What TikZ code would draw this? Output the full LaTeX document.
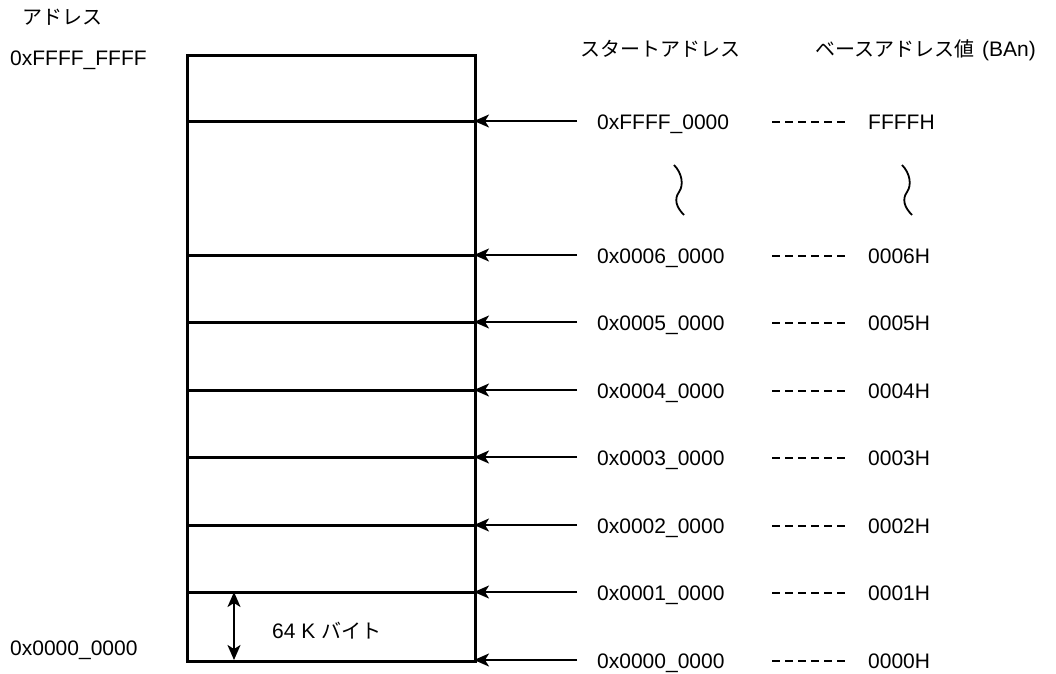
\documentclass[tikz,border=0pt]{standalone}
\usepackage{fontspec}
\setmainfont{Liberation Sans}
\newfontfamily\jp{Noto Sans CJK JP}
\usetikzlibrary{arrows.meta}
\tikzset{
  lbl/.style={font=\fontsize{21}{25}\selectfont, inner sep=0pt, anchor=base west},
  jlbl/.style={font=\fontsize{20}{24}\selectfont\jp, inner sep=0pt, anchor=base west},
  boxline/.style={line width=2.8pt},
  rowline/.style={line width=3pt},
  ptrline/.style={line width=1.8pt, -{Stealth[length=15pt,width=13pt,inset=4pt]}},
  dimline/.style={line width=2pt, {Stealth[length=15pt,width=13pt,inset=4pt]}-{Stealth[length=15pt,width=13pt,inset=4pt]}},
  dashline/.style={line width=1.8pt, dash pattern=on 8pt off 5pt},
  waveline/.style={line width=1.8pt}
}
\begin{document}
\begin{tikzpicture}
\useasboundingbox (0pt,0pt) rectangle (1056pt,-673pt);
\begin{scope}[x=1pt,y=-1pt]
% memory box
\node[draw, boxline, anchor=north west, inner sep=0pt,
      minimum width=288pt, minimum height=606pt] (mem) at (186,54) {};
\foreach \yy in {121,255,322,390,457,525,592}{
  \coordinate (hl\yy) at (186,\yy);
  \coordinate (hr\yy) at (474,\yy);
  \draw[rowline] (hl\yy) -- (hr\yy);
}

% left labels
\node[jlbl] (addr) at (22,24) {アドレス};
\node[lbl] (top) at (10,65) {0xFFFF\_FFFF};
\node[lbl] (bot) at (10,655) {0x0000\_0000};

% headers
\node[jlbl] (hstart) at (580,56) {スタートアドレス};
\node[lbl] (hbase) at (815,56) {{\jp\fontsize{20}{24}\selectfont ベースアドレス値}\hspace{8pt}(BAn)};

% rows
\foreach \yy/\sa/\ba/\nm in {121/0xFFFF\_0000/FFFFH/r7,
                        255/0x0006\_0000/0006H/r6,
                        322/0x0005\_0000/0005H/r5,
                        390/0x0004\_0000/0004H/r4,
                        457/0x0003\_0000/0003H/r3,
                        525/0x0002\_0000/0002H/r2,
                        592/0x0001\_0000/0001H/r1,
                        660/0x0000\_0000/0000H/r0}{
  \coordinate (\nm s) at (577,\yy);
  \coordinate (\nm e) at (474,\yy);
  \draw[ptrline] (\nm s) -- (\nm e);
  \node[lbl] (\nm a) at (597,\yy+8) {\sa};
  \coordinate (\nm d1) at (772,\yy+1);
  \coordinate (\nm d2) at (847,\yy+1);
  \draw[dashline] (\nm d1) -- (\nm d2);
  \node[lbl] (\nm b) at (868,\yy+8) {\ba};
}

% omission waves
\draw[waveline] (674,165) .. controls (682,173) and (684,185) .. (679,192)
            .. controls (674,199) and (676,207) .. (684,215);
\draw[waveline] (902,165) .. controls (910,173) and (912,185) .. (907,192)
            .. controls (902,199) and (904,207) .. (912,215);

% 64K dimension
\coordinate (d64a) at (234,592);
\coordinate (d64b) at (234,660);
\draw[dimline] (d64a) -- (d64b);
\node[lbl] (k64) at (272,638) {64 K {\jp\fontsize{20}{24}\selectfont バイト}};
\end{scope}
\end{tikzpicture}
\end{document}
